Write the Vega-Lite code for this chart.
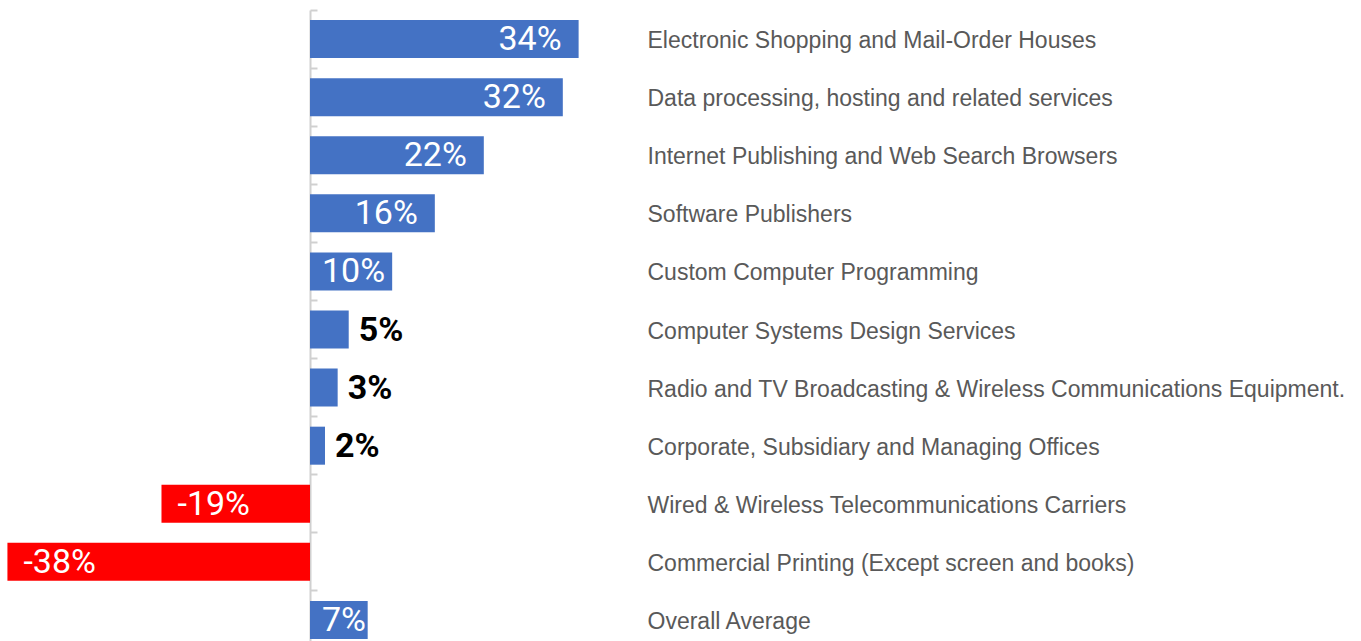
{
  "$schema": "https://vega.github.io/schema/vega-lite/v6.json",
  "autosize": {"type": "none"},
  "padding": {"left": 0, "top": 10, "right": 721, "bottom": 0},
  "width": 640,
  "height": 639,
  "background": "white",
  "config": {"view": {"stroke": null}},
  "data": {
    "values": [
      {"cat": "Electronic Shopping and Mail-Order Houses", "v": 0.340, "lab": "34%"},
      {"cat": "Data processing, hosting and related services", "v": 0.320, "lab": "32%"},
      {"cat": "Internet Publishing and Web Search Browsers", "v": 0.220, "lab": "22%"},
      {"cat": "Software Publishers", "v": 0.158, "lab": "16%"},
      {"cat": "Custom Computer Programming", "v": 0.104, "lab": "10%"},
      {"cat": "Computer Systems Design Services", "v": 0.049, "lab": "5%"},
      {"cat": "Radio and TV Broadcasting & Wireless Communications Equipment.", "v": 0.035, "lab": "3%"},
      {"cat": "Corporate, Subsidiary and Managing Offices", "v": 0.019, "lab": "2%"},
      {"cat": "Wired & Wireless Telecommunications Carriers", "v": -0.188, "lab": "-19%"},
      {"cat": "Commercial Printing (Except screen and books)", "v": -0.383, "lab": "-38%"},
      {"cat": "Overall Average", "v": 0.073, "lab": "7%"}
    ]
  },
  "encoding": {
    "y": {"field": "cat", "type": "nominal", "sort": null,
          "scale": {"paddingInner": 0.3456, "paddingOuter": 0.1728}, "axis": null},
    "x": {"field": "v", "type": "quantitative",
          "scale": {"domain": [-0.3924, 0.4177], "nice": false, "zero": false},
          "axis": null}
  },
  "layer": [
    {
      "mark": {"type": "bar"},
      "encoding": {
        "color": {"condition": {"test": "datum.v < 0", "value": "#FF0000"}, "value": "#4472C4"},
        "y": {"field": "cat", "type": "nominal", "sort": null,
              "axis": {"orient": "left", "offset": -310, "labels": false, "title": null,
                       "domainColor": "#D0D0D0", "domainWidth": 2, "tickColor": "#D0D0D0",
                       "tickWidth": 2, "tickSize": -7, "bandPosition": -0.264}}
      }
    },
    {
      "mark": {"type": "text", "opacity": 0},
      "encoding": {
        "text": {"field": "cat"},
        "y": {"field": "cat", "type": "nominal", "sort": null,
              "axis": {"orient": "right", "title": null, "ticks": false, "domain": false,
                       "labelPadding": 7, "labelFont": "Liberation Sans", "labelOffset": 2,
                       "labelFontSize": 23, "labelColor": "#595959", "labelLimit": 900}}
      }
    },
    {
      "transform": [{"filter": "datum.v >= 0.15"}],
      "mark": {"type": "text", "align": "right", "baseline": "middle", "dx": -17, "dy": 1,
               "font": "Roboto", "fontSize": 34, "color": "white"},
      "encoding": {"text": {"field": "lab"}}
    },
    {
      "transform": [{"filter": "datum.v >= 0.06 && datum.v < 0.15"}],
      "mark": {"type": "text", "align": "left", "baseline": "middle", "dx": 12, "dy": 1,
               "font": "Roboto", "fontSize": 34, "color": "white"},
      "encoding": {"text": {"field": "lab"}, "x": {"datum": 0, "type": "quantitative"}}
    },
    {
      "transform": [{"filter": "datum.v > 0 && datum.v < 0.06"}],
      "mark": {"type": "text", "align": "left", "baseline": "middle", "dx": 10, "dy": 1,
               "font": "Roboto", "fontSize": 34, "fontWeight": "bold", "color": "black"},
      "encoding": {"text": {"field": "lab"}}
    },
    {
      "transform": [{"filter": "datum.v < 0"}],
      "mark": {"type": "text", "align": "left", "baseline": "middle", "dx": 16, "dy": 1,
               "font": "Roboto", "fontSize": 34, "color": "white"},
      "encoding": {"text": {"field": "lab"}}
    }
  ],
  "resolve": {"axis": {"y": "independent"}}
}
